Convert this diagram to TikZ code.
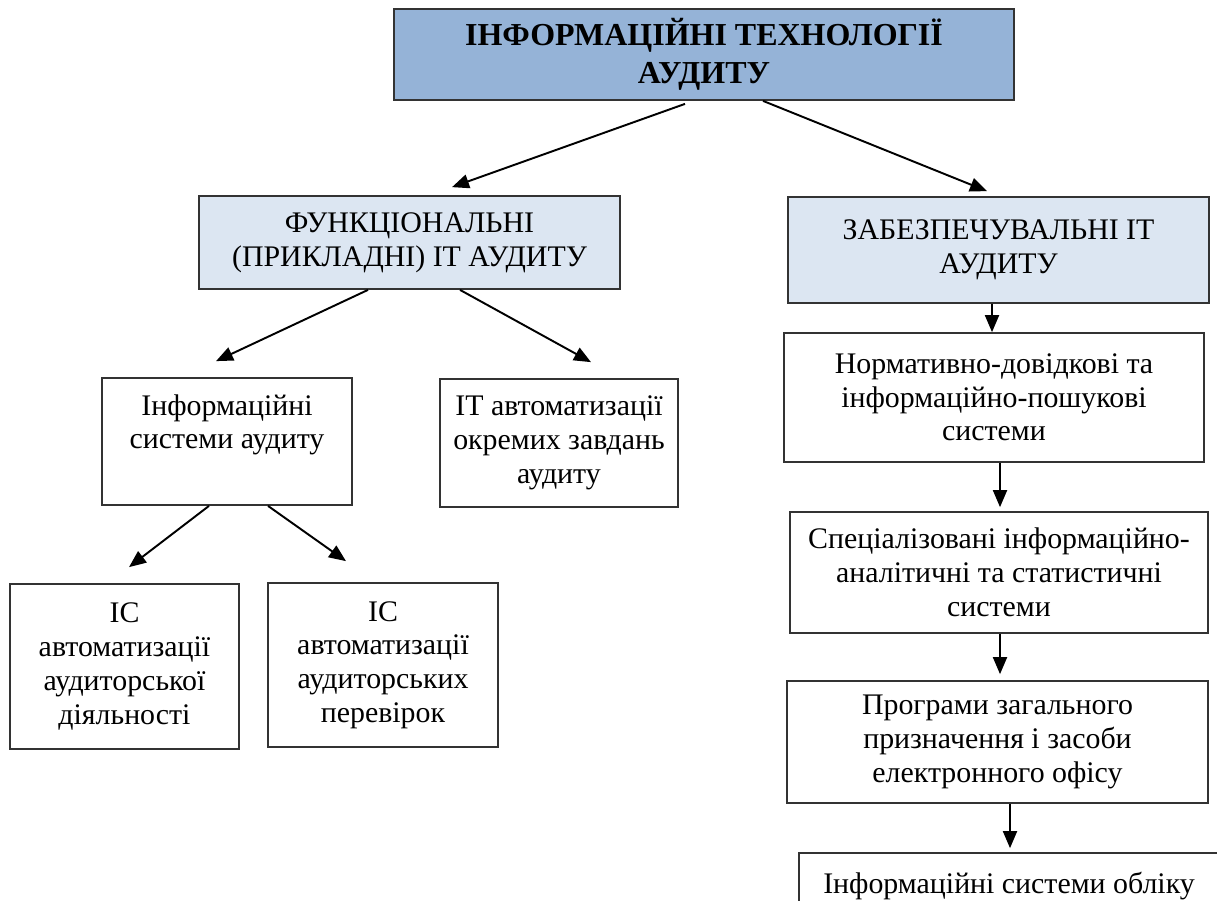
\documentclass[tikz,border=0pt]{standalone}
\usepackage{fontspec}
\setmainfont{Liberation Serif}
\usetikzlibrary{arrows.meta}

\definecolor{headblue}{HTML}{95B3D7}
\definecolor{subblue}{HTML}{DCE6F2}

\tikzset{
	box/.style={draw=black!80, line width=1pt, rectangle, inner sep=0pt, align=center,
		font=\fontsize{17}{19.2}\selectfont},
	headbox/.style={box, fill=headblue, font=\fontsize{18.2}{21.5}\selectfont\bfseries},
	subbox/.style={box, fill=subblue},
	arr/.style={line width=1.1pt, -{Triangle[length=0.34cm,width=0.28cm]}}
}

\begin{document}
\begin{tikzpicture}
		%%%%% FRAME %%%%%
		\useasboundingbox (0,0) rectangle (24.34,-18);
		\clip (0,0) rectangle (24.34,-18);
		
		%%%%% BOXES %%%%%
		\node[headbox, minimum width=12.4cm, minimum height=1.82cm] (top) at (14.08,-1.09) {ІНФОРМАЦІЙНІ ТЕХНОЛОГІЇ\\АУДИТУ};
		
		\node[subbox, minimum width=8.42cm, minimum height=1.86cm] (func) at (8.19,-4.85) {ФУНКЦІОНАЛЬНІ\\(ПРИКЛАДНІ) ІТ АУДИТУ};
		\node[subbox, minimum width=8.42cm, minimum height=2.12cm] (zabez) at (19.97,-5.0) {ЗАБЕЗПЕЧУВАЛЬНІ ІТ\\АУДИТУ};
		
		\node[box, minimum width=5.0cm, minimum height=2.54cm, text depth=0.8cm] (infosys) at (4.54,-8.83) {Інформаційні\\системи аудиту};
		\node[box, minimum width=4.76cm, minimum height=2.56cm] (itauto) at (11.18,-8.86) {ІТ автоматизації\\окремих завдань\\аудиту};
		
		\node[box, minimum width=4.58cm, minimum height=3.3cm] (icdial) at (2.49,-13.33) {ІС\\автоматизації\\аудиторської\\діяльності};
		\node[box, minimum width=4.6cm, minimum height=3.28cm] (icperev) at (7.66,-13.3) {ІС\\автоматизації\\аудиторських\\перевірок};
		
		\node[box, minimum width=8.4cm, minimum height=2.58cm] (normat) at (19.88,-7.95) {Нормативно-довідкові та\\інформаційно-пошукові\\системи};
		\node[box, minimum width=8.36cm, minimum height=2.42cm] (spec) at (19.98,-11.45) {Спеціалізовані інформаційно-\\аналітичні та статистичні\\системи};
		\node[box, minimum width=8.42cm, minimum height=2.44cm] (progr) at (19.95,-14.84) {Програми загального\\призначення і засоби\\електронного офісу};
		\node[box, minimum width=8.4cm, minimum height=2.14cm, text height=0.45cm, text depth=0.99cm] (oblik) at (20.18,-18.13) {Інформаційні системи обліку};
		
		%%%%% ARROWS %%%%%
		\draw[arr] ([shift={(-0.38,-0.06)}]top.south) -- ([shift={(0.85,0.16)}]func.north);
		\draw[arr] ([xshift=1.18cm]top.south) -- ([shift={(-0.23,0.10)}]zabez.north);
		
		\draw[arr] ([xshift=-0.83cm]func.south) -- ([shift={(-0.22,0.32)}]infosys.north);
		\draw[arr] ([xshift=1.01cm]func.south) -- ([shift={(0.64,0.32)}]itauto.north);
		
		\draw[arr] ([xshift=-0.36cm]infosys.south) -- ([shift={(0.09,0.32)}]icdial.north);
		\draw[arr] ([xshift=0.82cm]infosys.south) -- ([shift={(-0.74,0.42)}]icperev.north);
		
		\draw[arr] ([xshift=-0.13cm]zabez.south) -- ([xshift=-0.04cm]normat.north);
		\draw[arr] ([xshift=0.12cm]normat.south) -- ([shift={(0.02,0.08)}]spec.north);
		\draw[arr] ([xshift=0.02cm]spec.south) -- ([shift={(0.05,0.12)}]progr.north);
		\draw[arr] ([xshift=0.25cm]progr.south) -- ([shift={(0.02,0.08)}]oblik.north);
	\end{tikzpicture}
\end{document}
